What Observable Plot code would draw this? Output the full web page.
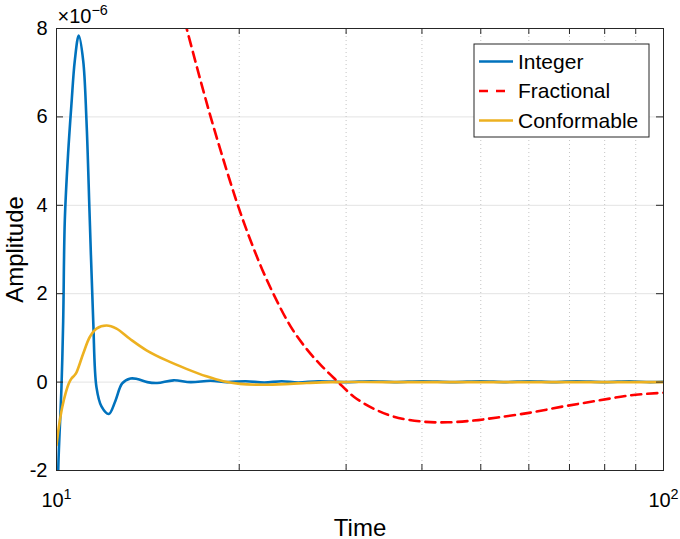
<!DOCTYPE html>
<html><head><meta charset="utf-8">
<script src="https://cdn.jsdelivr.net/npm/d3@7"></script>
<script src="https://cdn.jsdelivr.net/npm/@observablehq/plot@0.6"></script>
<style>body{margin:0;background:#fff;} #chart{width:680px;height:539px;}</style>
</head><body><div id="chart"></div>
<script>
// ---- data (amplitude in units of 1e-6) ----
const integerTime = [10, 10.065, 10.19, 10.257, 10.32, 10.45, 10.585, 10.72, 10.88, 11.064, 11.204, 11.346, 11.494, 11.638, 11.86, 12.195, 12.507, 12.83, 13.24, 13.58, 14.11, 14.65, 15.59, 16.63, 17.94, 19.1, 20.5, 22, 23.5, 25, 27, 30, 33, 36, 40, 45, 50, 55, 60, 66, 72, 80, 88, 95, 100];
const integerAmp  = [-5, -2, -0.12, 1.39, 3.66, 5.17, 6.3, 7.28, 7.84, 7.28, 5.92, 3.66, 1.39, -0.12, -0.55, -0.72, -0.42, -0.03, 0.08, 0.07, 0, -0.02, 0.04, 0, 0.03, 0, 0.02, -0.01, 0.02, -0.01, 0.02, 0, 0.02, 0, 0.02, 0, 0.02, 0, 0.02, 0, 0.02, 0, 0.02, 0, 0.01];
const fractionalTime = [16.01, 16.42, 16.94, 17.48, 18.05, 18.75, 19.72, 20.62, 21.82, 22.95, 24.3, 25.72, 27.23, 29.01, 30.89, 33.29, 35.92, 39.79, 44.08, 48.64, 53.29, 60.39, 68.43, 77.87, 88.23, 100];
const fractionalAmp  = [8.52, 7.95, 7.25, 6.56, 5.88, 5.12, 4.16, 3.4, 2.55, 1.9, 1.26, 0.78, 0.39, 0.02, -0.33, -0.6, -0.78, -0.89, -0.91, -0.87, -0.8, -0.69, -0.55, -0.42, -0.3, -0.24];
const conformableTime = [10, 10.088, 10.219, 10.347, 10.477, 10.585, 10.7, 10.788, 11.064, 11.346, 11.638, 12.089, 12.555, 13.205, 14.07, 15.18, 16.37, 17.66, 18.82, 20.05, 21.91, 24.23, 25.82, 28.31, 35, 50, 70, 100];
const conformableAmp  = [-1.43, -1.02, -0.57, -0.26, -0.03, 0.08, 0.15, 0.22, 0.64, 1.02, 1.21, 1.28, 1.21, 0.98, 0.72, 0.49, 0.3, 0.13, 0.02, -0.04, -0.06, -0.04, -0.02, 0, 0, 0, 0, 0];
const seriesNames  = ["Integer", "Fractional", "Conformable"];
const seriesColors = ["#0072BD", "#FF0000", "#EDB120"];
const yTicks = [-2, 0, 2, 4, 6, 8];
const xMajorTicks = [10, 100];
const xMinorTicks = [20, 30, 40, 50, 60, 70, 80, 90];
const yExponentLabel = "×10^\u22126";
const xLabel = "Time", yLabel = "Amplitude";

const rows = (ts, vs) => ts.map((t, i) => ({t, v: vs[i]}));
const series = [rows(integerTime, integerAmp), rows(fractionalTime, fractionalAmp), rows(conformableTime, conformableAmp)];

const W = 680, H = 539, mL = 56, mR = 17, mT = 28, mB = 69;
const pw = W - mL - mR, ph = H - mT - mB;
const font = "'Liberation Sans', Arial, Helvetica, sans-serif";
const ink = "#262626";

const chart = Plot.plot({
  width: W, height: H, marginLeft: mL, marginRight: mR, marginTop: mT, marginBottom: mB,
  style: {fontFamily: font, background: "#fff", color: ink},
  x: {type: "log", domain: [10, 100]},
  y: {domain: [-2, 8]},
  marks: [
    Plot.ruleY(yTicks, {stroke: "#e3e3e3", strokeWidth: 1}),
    Plot.ruleX(xMinorTicks, {stroke: "#c4c4c4", strokeWidth: 1, strokeDasharray: "1,3"}),
    Plot.line(series[0], {x: "t", y: "v", stroke: seriesColors[0], strokeWidth: 2.6, curve: "catmull-rom", clip: true}),
    Plot.line(series[1], {x: "t", y: "v", stroke: seriesColors[1], strokeWidth: 2.6, strokeDasharray: "10,6", curve: "catmull-rom", clip: true}),
    Plot.line(series[2], {x: "t", y: "v", stroke: seriesColors[2], strokeWidth: 2.6, curve: "catmull-rom", clip: true}),
    Plot.frame({stroke: ink, strokeWidth: 1}),
    Plot.ruleX([...xMajorTicks, ...xMinorTicks], {stroke: ink, insetTop: ph - 6}),
    Plot.ruleX([...xMajorTicks, ...xMinorTicks], {stroke: ink, insetBottom: ph - 6}),
    Plot.ruleY(yTicks, {stroke: ink, insetRight: pw - 7}),
    Plot.ruleY(yTicks, {stroke: ink, insetLeft: pw - 7}),
    Plot.axisY({ticks: yTicks, tickSize: 0, tickPadding: 9, fontSize: 20, fill: "#000", label: null, tickFormat: d => String(d)}),
    Plot.axisX({ticks: xMajorTicks, tickSize: 0, tickPadding: 22, fontSize: 20, fill: "#000", label: null, tickFormat: d => "10^" + Math.round(Math.log10(d))}),
    Plot.text([yLabel], {frameAnchor: "left", textAnchor: "middle", rotate: -90, lineAnchor: "top", dx: -51, fontSize: 24, fill: "#000"}),
    Plot.text([xLabel], {frameAnchor: "bottom", textAnchor: "middle", lineAnchor: "bottom", dy: 65, fontSize: 24, fill: "#000"}),
    Plot.text([yExponentLabel], {frameAnchor: "top-left", textAnchor: "start", lineAnchor: "bottom", dy: -6, dx: 1, fontSize: 20, fill: "#000"})
  ]
});
document.getElementById("chart").appendChild(chart);

// superscripts for "10^n"
d3.select(chart).selectAll("text").each(function () {
  const s = this.textContent;
  const m = s.match(/^(.*?10)\^([-\u2212]?\d+)$/);
  if (!m) return;
  this.textContent = "";
  const t = d3.select(this);
  t.append("tspan").text(m[1]);
  t.append("tspan").attr("dy", "-0.52em").attr("font-size", "0.72em").text(m[2]);
});

// legend (inside the axes, top-right)
const lg = d3.select(chart).append("g").attr("font-family", font).attr("font-size", 21).attr("text-anchor", "start");
const bx = W - mR - 14 - 175, by = mT + 16;
lg.append("rect").attr("x", bx).attr("y", by).attr("width", 175).attr("height", 93)
  .attr("fill", "#fff").attr("stroke", ink).attr("stroke-width", 1);
seriesNames.forEach((name, i) => {
  const yy = by + 17.5 + i * 29.5;
  lg.append("line").attr("x1", bx + 5).attr("x2", bx + 39).attr("y1", yy).attr("y2", yy)
    .attr("stroke", seriesColors[i]).attr("stroke-width", 2.6)
    .attr("stroke-dasharray", i === 1 ? "9,8" : null);
  lg.append("text").attr("x", bx + 44).attr("y", yy).attr("dy", "0.35em").attr("fill", "#000").text(name);
});
</script>
</body></html>
